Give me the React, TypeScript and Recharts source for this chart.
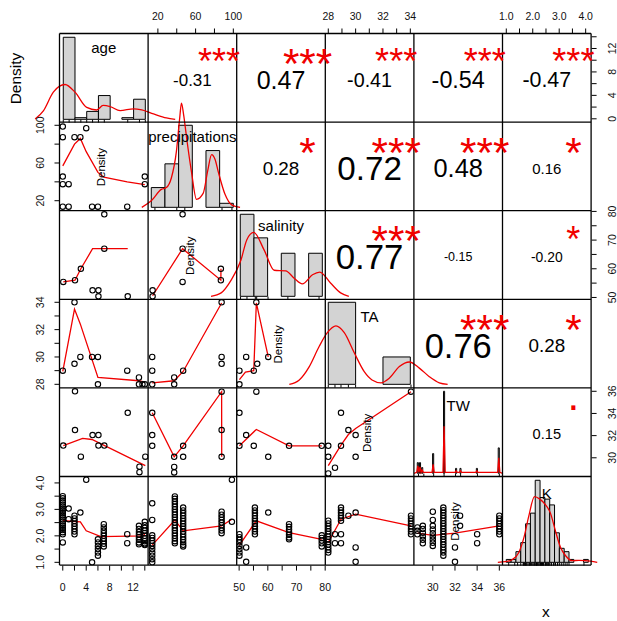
import React from 'react'
import { ComposedChart, Scatter, Line, XAxis, YAxis, ReferenceArea } from 'recharts'

type Pt = [number, number]
type Group = [number, number[]]
type Side = 'top' | 'bottom' | 'left' | 'right'

// variables in panel order and their observed ranges
const variables = ['age', 'precipitations', 'salinity', 'TA', 'TW', 'K']
const dataRanges: Pt[] = [[0, 14], [13, 100], [50.4, 79], [28, 34], [28.6, 36], [1.0, 4.1]]

// outer axes: tick marks and the ones that carry a label
const ageTicks = [0, 2, 4, 6, 8, 10, 12, 14]
const precipTicks = [20, 40, 60, 80, 100]
const salinityTicks = [50, 55, 60, 65, 70, 75, 80]
const taTicks = [28, 29, 30, 31, 32, 33, 34]
const twTicks = [30, 32, 34, 36]
const kTicks = [1, 1.5, 2, 2.5, 3, 3.5, 4]

const ageTickLabels = ['0', '4', '8', '12']
const precipTickLabels = ['20', '60', '100']
const salinityTickLabels = ['50', '60', '70', '80']
const taTickLabels = ['28', '30', '32', '34']
const twTickLabels = ['30', '32', '34', '36']
const kTickLabels = ['1.0', '2.0', '3.0', '4.0']

// upper triangle: correlations and significance, row by row
const corAge = [-0.31, 0.47, -0.41, -0.54, -0.47]
const corPrecip = [0.28, 0.72, 0.48, 0.16]
const corSalinity = [0.77, -0.15, -0.2]
const corTA = [0.76, 0.28]
const corTW = [0.15]
const sigAge = ['***', '***', '***', '***', '***']
const sigPrecip = ['*', '***', '***', '*']
const sigSalinity = ['***', '', '*']
const sigTA = ['***', '*']
const sigTW = ['.']

// diagonal: histogram breaks + densities, density curve, rug
const ageBreaks = [0, 2, 4, 6, 8, 10, 12, 14]
const ageHist = [0.29, 0.0058, 0.028, 0.084, 0, 0.0058, 0.071]
const ageCurve: Pt[] = [[-4.8, 0.0014], [-3.4, 0.03], [-1.7, 0.096], [0.3, 0.123], [2, 0.096], [4, 0.042], [5.7, 0.033], [6.8, 0.049], [8, 0.045], [9.7, 0.031], [12, 0.037], [13.4, 0.033], [15.4, 0.019], [17.6, 0.005], [19.1, 0]]
const ageRug = [0, 1, 2, 3, 4, 5, 6, 7, 11, 13, 14]

const precipBreaks = [10, 25, 40, 55, 70, 85, 100]
const precipHist = [0.0064, 0.0141, 0.0266, 0, 0.0184, 0.0013]
const precipCurve: Pt[] = [[-0.4, 0], [10, 0.0021], [21, 0.0058], [26.5, 0.0064], [32.1, 0.0096], [37.6, 0.0182], [41.2, 0.029], [43.1, 0.0338], [45.5, 0.03], [49, 0.022], [54.1, 0.0115], [59.6, 0.0026], [66.9, 0.0045], [72, 0.012], [76.2, 0.0171], [80, 0.0155], [83.5, 0.0115], [90.9, 0.0042], [98.2, 0.0008], [107.4, 0]]
const precipRug = [14, 38, 46.8, 87.6, 98.5]

const salinityBreaks = [50, 55, 60, 65, 70, 75, 80]
const salinityHist = [0.0724, 0.0516, 0, 0.038, 0, 0.038]
const salinityCurve: Pt[] = [[39.3, 0], [43, 0.003], [46.6, 0.014], [50.25, 0.032], [52.4, 0.05], [54.9, 0.0564], [58.7, 0.041], [62.4, 0.023], [66.6, 0.0225], [69.7, 0.016], [72.7, 0.011], [76.4, 0.019], [79.1, 0.0214], [83, 0.0117], [86.7, 0.003], [89.7, 0]]
const salinityRug = [50.1, 52.45, 55.5, 56, 60.15, 67.4, 78.8]

const taBreaks = [28, 30, 32, 34]
const taHist = [0.375, 0, 0.125]
const taCurve: Pt[] = [[25.15, 0], [25.88, 0.02], [26.6, 0.08], [27.34, 0.174], [27.93, 0.236], [28.56, 0.267], [29.17, 0.236], [29.9, 0.144], [30.63, 0.058], [31.2, 0.02], [31.86, 0.007], [32.46, 0.028], [33.2, 0.081], [33.93, 0.102], [34.66, 0.074], [35.39, 0.035], [36.12, 0.007], [36.73, 0]]
const taRug = [28, 28.49, 28.93, 29.47, 30, 34.05]

// TW: very narrow bins, given as [left edge, density]
const twRange: Pt = [28.5, 36]
const twBars: Pt[] = [[28.5, 0.13], [28.7, 0.13], [28.9, 0.07], [29.9, 0.24], [30.9, 1], [32.0, 0.06], [32.4, 0.06], [33.9, 0.06], [35.9, 0.31]]
const twCurve: Pt[] = [[28.2, 0], [28.45, 0.012], [28.55, 0.09], [28.65, 0.012], [28.75, 0.08], [28.85, 0.012], [28.95, 0.04], [29.05, 0.012], [29.85, 0.012], [29.95, 0.11], [30.05, 0.012], [30.85, 0.012], [30.95, 0.575], [31.05, 0.012], [31.95, 0.012], [32.05, 0.03], [32.15, 0.012], [32.35, 0.012], [32.45, 0.03], [32.55, 0.012], [33.85, 0.012], [33.95, 0.03], [34.05, 0.012], [35.85, 0.012], [35.95, 0.19], [36.05, 0.012], [36.3, 0]]
const twRug = [28.61, 29.1, 30, 30.95, 32, 32.46, 34, 36]

const kBreaks = [0.9, 1.1, 1.3, 1.5, 1.7, 1.9, 2.1, 2.3, 2.5, 2.7, 2.9, 3.1, 3.3, 3.5, 3.7, 3.9, 4.1, 4.3]
const kHist = [0.032, 0.032, 0.118, 0.218, 0.427, 0.545, 0.909, 0.718, 0.7, 0.636, 0.327, 0.155, 0.118, 0.032, 0, 0, 0.032]
const kCurve: Pt[] = [[0.55, 0], [0.87, 0.007], [1.14, 0.029], [1.42, 0.109], [1.63, 0.273], [1.83, 0.509], [2.07, 0.727], [2.29, 0.7], [2.53, 0.636], [2.73, 0.545], [2.94, 0.345], [3.15, 0.164], [3.36, 0.073], [3.63, 0.018], [3.91, 0.022], [4.18, 0.018], [4.67, 0]]

// lower triangle: scatter points and smoother, named y-by-x
const precipAgePts: Pt[] = [[0, 98.6], [0, 87.4], [2, 87.4], [3, 87.4], [4, 96.9], [0, 45.6], [0, 37.5], [1, 37.5], [14, 45.6], [14, 37.5], [0, 13.7], [1, 13.7], [5, 13.7], [6, 13.7], [11, 13.7]]
const precipAgeFit: Pt[] = [[0, 57], [2, 80], [3, 86], [4, 72], [6, 50], [7, 45], [11, 40], [14, 37]]

const salinityAgePts: Pt[] = [[7, 79], [7, 67], [0, 55.4], [2, 56], [3, 60], [5, 52.5], [6, 52.5], [6, 50.4], [11, 50.4]]
const salinityAgeFit: Pt[] = [[0, 55.4], [2, 56], [3, 60], [5, 67], [7, 67], [11, 67]]
const salinityPrecipPts: Pt[] = [[14.4, 52.5], [14.4, 50.4], [46.2, 79], [46.2, 67], [46.2, 55.4], [86.8, 60], [86.8, 56]]
const salinityPrecipFit: Pt[] = [[14.4, 50.6], [46.2, 67], [86.8, 56], [86.9, 60]]

const taAgePts: Pt[] = [[0, 29], [2, 34], [2, 29.5], [3, 30], [5, 30], [6, 30], [6, 28], [11, 29], [13, 28.5], [13, 28], [13.6, 28], [14, 28]]
const taAgeFit: Pt[] = [[0, 28.94], [2, 33.5], [3, 32.4], [6, 28.5], [13, 28.26], [14, 28.16]]
const taPrecipPts: Pt[] = [[14, 30], [14, 29], [14, 28], [37.3, 28.5], [37.3, 28], [46.8, 29], [87.6, 34], [87.6, 30], [87.6, 29.5]]
const taPrecipFit: Pt[] = [[14, 28.1], [37.3, 28.26], [46.8, 28.94], [87.6, 33.95]]
const taSalinityPts: Pt[] = [[50.1, 29], [50.1, 28], [52.45, 30], [55.1, 29], [56.3, 29.5], [56, 34], [60.15, 30]]
const taSalinityFit: Pt[] = [[50.1, 28.34], [52.2, 28.9], [55.1, 29.0], [56, 33.95], [60.15, 30]]

const twAgePts: Pt[] = [[2, 36], [0, 31.1], [2, 32.5], [5, 32.05], [6, 32.05], [6, 31.1], [7, 31.1], [3, 30.1], [11, 34.06], [14, 30.1], [13, 29.2], [13, 28.7]]
const twAgeFit: Pt[] = [[0, 31.1], [3.3, 31.75], [4.9, 31.65], [14, 29.3]]
const twPrecipPts: Pt[] = [[14, 34.06], [14, 32.05], [14, 31.08], [37.3, 30.09], [37.3, 29.18], [37.3, 28.68], [46.8, 31.08], [46.8, 30.09], [87.6, 35.96], [87.6, 32.5], [87.6, 30.09]]
const twPrecipFit: Pt[] = [[14, 34.06], [37.3, 30.09], [46.8, 31.08], [87.6, 35.96], [87.7, 30.09]]
const twSalinityPts: Pt[] = [[56, 35.96], [50.1, 34.06], [52.45, 32.05], [50.1, 31.08], [55.1, 31.08], [60.15, 30.09], [67.4, 31.08], [78.8, 31.08]]
const twSalinityFit: Pt[] = [[50.1, 31.08], [56, 32.56], [67.4, 31.08], [78.8, 31.08]]
const twTaPts: Pt[] = [[28, 31.08], [28, 30.09], [28.49, 29.1], [28, 28.59], [28.93, 34.06], [28.93, 31.08], [29.47, 32.5], [30, 32.05], [30, 30.09], [34.05, 35.96]]
const twTaFit: Pt[] = [[28, 29.3], [28.93, 31.15], [29.47, 32.1], [30, 32.65], [34.05, 35.96]]

// K rows: stacks of points sharing one x value
const kAgeGroups: Group[] = [
  [0, [3.5, 3.42, 3.34, 3.26, 3.18, 3.1, 3.02, 2.94, 2.86, 2.78, 2.7, 2.62, 2.54, 2.46, 2.38, 2.3, 2.22, 2.14, 2.06, 1.75]],
  [1, [3.03, 2.63]],
  [2, [2.76, 2.66, 2.56, 2.46, 2.36, 2.26, 2.16, 2.06]],
  [3, [2.88]],
  [4, [4.12]],
  [5, [1.0]],
  [6, [1.87, 1.75, 1.62, 1.5, 1.37, 1.25]],
  [7, [2.44, 2.32, 2.2, 2.1, 2.0, 1.9, 1.8, 1.7, 1.6]],
  [11, [2.06, 1.72]],
  [13, [2.38, 2.26, 2.15, 2.05, 1.95, 1.85, 1.75, 1.68]],
  [14, [2.53, 2.4, 2.3, 2.2, 2.1, 2.0, 1.9, 1.8, 1.72, 1.68, 1.65]],
]
const kAgeFit: Pt[] = [[0, 2.57], [3, 2.53], [4, 2.19], [6.5, 1.97], [13.8, 2.0], [14, 2.1]]
const kPrecipGroups: Group[] = [
  [14, [3.23, 2.6, 2.02, 1.92, 1.82, 1.72, 1.62, 1.5, 1.37, 1.25, 1.12, 1.0]],
  [38, [3.49, 3.4, 3.3, 3.2, 3.1, 3.0, 2.9, 2.8, 2.7, 2.6, 2.5, 2.4, 2.3, 2.2, 2.1, 2.0, 1.9, 1.8, 1.72]],
  [46.8, [3.07, 2.96, 2.86, 2.76, 2.66, 2.56, 2.46, 2.36, 2.26, 2.16, 2.06, 1.96, 1.86, 1.76, 1.66, 1.6]],
  [87.6, [2.91, 2.8, 2.7, 2.6, 2.5, 2.4, 2.3, 2.2, 2.1]],
  [98.5, [4.12, 2.53]],
]
const kPrecipFit: Pt[] = [[14, 1.65], [38, 2.6], [46.8, 2.19], [87.6, 2.38], [98.5, 2.63]]
const kSalinityGroups: Group[] = [
  [50.1, [2.06, 1.95, 1.85, 1.75, 1.62, 1.5, 1.37, 1.25]],
  [52.45, [1.56, 1.02]],
  [55.5, [3.07, 2.96, 2.86, 2.76, 2.66, 2.56, 2.46, 2.36, 2.26, 2.16, 2.06]],
  [60.15, [2.88]],
  [67.4, [2.44, 2.34, 2.24, 2.14, 2.04, 1.94, 1.87]],
  [78.8, [2.02, 1.92, 1.82, 1.72, 1.6]],
]
const kSalinityFit: Pt[] = [[50.1, 1.65], [56, 2.57], [67.4, 2.12], [78.8, 1.87]]
const kTaGroups: Group[] = [
  [28, [2.57, 2.47, 2.37, 2.27, 2.17, 2.07, 1.97, 1.87, 1.77, 1.67, 1.57, 1.47, 1.37]],
  [28.49, [2.06, 1.72]],
  [28.93, [3.07, 2.97, 2.87, 2.77, 2.67, 2.57, 2.06, 1.72]],
  [29.47, [2.76]],
  [30, [2.88, 1.56, 1.02]],
  [34.05, [2.76, 2.66, 2.56, 2.46, 2.36, 2.26, 2.16, 2.06]],
]
const kTaFit: Pt[] = [[28, 1.75], [28.93, 2.63], [30, 2.82], [34.05, 2.38]]
const kTwGroups: Group[] = [
  [28.61, [2.32, 2.19, 2.06]],
  [29.1, [2.38, 2.26, 2.12, 1.98, 1.85, 1.72]],
  [30, [2.91, 2.6, 2.38, 2.24, 2.1, 1.98, 1.86, 1.74, 1.62]],
  [30.95, [3.07, 2.97, 2.87, 2.77, 2.67, 2.57, 2.47, 2.37, 2.27, 2.17, 2.07, 1.97, 1.87, 1.77, 1.67, 1.57, 1.47, 1.37, 1.25]],
  [32, [1.56, 1.02]],
  [32.46, [2.76, 2.38]],
  [34, [2.06, 1.72]],
  [36, [2.76, 2.66, 2.56, 2.46, 2.36, 2.26, 2.16, 2.06]],
]
const kTwFit: Pt[] = [[28.61, 2.1], [30, 2.02], [32, 2.1], [36, 2.38]]

// ---------------------------------------------------------------- layout
const P = 88.6
const X0 = 59.5
const Y0 = 33.5
const FONT = '"Liberation Sans", Arial, Helvetica, sans-serif'
const RED = '#f00000'
const colLeft = (j: number) => X0 + j * P
const rowTop = (i: number) => Y0 + i * P

const flatten = (groups: Group[]): Pt[] => groups.flatMap(([x, ys]) => ys.map((y) => [x, y] as Pt))
const xy = (pts: Pt[]) => pts.map(([x, y]) => ({ x, y }))
// R pads every axis range by 4% on each side
const pad = (r: Pt): Pt => {
  const e = (r[1] - r[0]) * 0.04
  return [r[0] - e, r[1] + e]
}
const domains = dataRanges.map(pad)
const axisTicks = [ageTicks, precipTicks, salinityTicks, taTicks, twTicks, kTicks]
const axisLabels = [ageTickLabels, precipTickLabels, salinityTickLabels, taTickLabels, twTickLabels, kTickLabels]

const kRug = Array.from(new Set(flatten(kAgeGroups).map((p) => p[1]))).sort((a, b) => a - b)

type Bin = { lo: number; hi: number; h: number }
const fromBreaks = (breaks: number[], dens: number[]): Bin[] =>
  dens.map((h, n) => ({ lo: breaks[n], hi: breaks[n + 1], h }))

const diagonals = [
  { bins: fromBreaks(ageBreaks, ageHist), range: [ageBreaks[0], ageBreaks[7]], curve: ageCurve, rug: ageRug },
  { bins: fromBreaks(precipBreaks, precipHist), range: [10, 100], curve: precipCurve, rug: precipRug },
  { bins: fromBreaks(salinityBreaks, salinityHist), range: [50, 80], curve: salinityCurve, rug: salinityRug },
  { bins: fromBreaks(taBreaks, taHist), range: [28, 34], curve: taCurve, rug: taRug },
  { bins: twBars.map(([lo, h]) => ({ lo, hi: lo + 0.1, h })), range: twRange, curve: twCurve, rug: twRug },
  { bins: fromBreaks(kBreaks, kHist), range: [0.9, 4.3], curve: kCurve, rug: kRug },
]

const lower: Record<string, [Pt[], Pt[]]> = {
  '1-0': [precipAgePts, precipAgeFit],
  '2-0': [salinityAgePts, salinityAgeFit],
  '2-1': [salinityPrecipPts, salinityPrecipFit],
  '3-0': [taAgePts, taAgeFit],
  '3-1': [taPrecipPts, taPrecipFit],
  '3-2': [taSalinityPts, taSalinityFit],
  '4-0': [twAgePts, twAgeFit],
  '4-1': [twPrecipPts, twPrecipFit],
  '4-2': [twSalinityPts, twSalinityFit],
  '4-3': [twTaPts, twTaFit],
  '5-0': [flatten(kAgeGroups), kAgeFit],
  '5-1': [flatten(kPrecipGroups), kPrecipFit],
  '5-2': [flatten(kSalinityGroups), kSalinityFit],
  '5-3': [flatten(kTaGroups), kTaFit],
  '5-4': [flatten(kTwGroups), kTwFit],
}

const axisSides = (i: number, j: number): Side[] => {
  const s: Side[] = []
  if (i === 0 && j % 2 === 1) s.push('top')
  if (i === 5 && j % 2 === 0) s.push('bottom')
  if (j === 0 && i % 2 === 1) s.push('left')
  if (j === 5 && i % 2 === 0) s.push('right')
  return s
}

const tickRenderer = (side: Side, labels: string[]) => (props: any) => {
  const { x, y, payload } = props
  const label = labels.find((l) => Number(l) === payload.value)
  if (label === undefined) return <g />
  const st = { fontSize: 10.5, fontFamily: FONT, fill: '#111' }
  if (side === 'top') return <text x={x} y={y} textAnchor="middle" {...st}>{label}</text>
  if (side === 'bottom') return <text x={x} y={y + 7.6} textAnchor="middle" {...st}>{label}</text>
  return (
    <text x={x} y={y} textAnchor="middle" transform={`rotate(-90 ${x} ${y})`} {...st}>
      {label}
    </text>
  )
}

const OpenCircle = (p: any) => <circle cx={p.cx} cy={p.cy} r={2.7} fill="none" stroke="#000" strokeWidth={1.1} />
const RugTick = (p: any) => <line x1={p.cx} x2={p.cx} y1={p.cy} y2={p.cy - 3} stroke="#000" strokeWidth={1} />

function PairPanel({ i, j, pts, fit }: { i: number; j: number; pts?: Pt[]; fit?: Pt[] }) {
  const sides = axisSides(i, j)
  const eT = sides.includes('top') ? Y0 : 0
  const eB = sides.includes('bottom') ? 40 : 0
  const eL = sides.includes('left') ? X0 : 0
  const eR = sides.includes('right') ? 26 : 0
  const xSide: Side = eT ? 'top' : 'bottom'
  const ySide: Side = eL ? 'left' : 'right'
  return (
    <div style={{ position: 'absolute', left: colLeft(j) - eL, top: rowTop(i) - eT }}>
      <ComposedChart width={P + eL + eR} height={P + eT + eB} margin={{ top: 0, right: 0, bottom: 0, left: 0 }}>
        <XAxis
          type="number"
          dataKey="x"
          domain={domains[j]}
          allowDataOverflow
          hide={!(eT || eB)}
          orientation={xSide as 'top' | 'bottom'}
          height={eT + eB || 30}
          ticks={axisTicks[j]}
          interval={0}
          tickSize={5}
          tickMargin={xSide === 'top' ? 8.8 : 12.8}
          axisLine={false}
          tickLine={{ stroke: '#000' }}
          tick={tickRenderer(xSide, axisLabels[j])}
        />
        <YAxis
          type="number"
          dataKey="y"
          domain={domains[i]}
          allowDataOverflow
          hide={!(eL || eR)}
          orientation={ySide as 'left' | 'right'}
          width={eL + eR || 30}
          ticks={axisTicks[i]}
          interval={0}
          tickSize={5}
          tickMargin={ySide === 'left' ? 10.7 : 19.7}
          axisLine={false}
          tickLine={{ stroke: '#000' }}
          tick={tickRenderer(ySide, axisLabels[i])}
        />
        {pts && <Scatter data={xy(pts)} shape={OpenCircle} isAnimationActive={false} />}
        {fit && (
          <Line data={xy(fit)} dataKey="y" type="linear" stroke={RED} strokeWidth={1.3} dot={false} isAnimationActive={false} />
        )}
      </ComposedChart>
    </div>
  )
}

function DiagPanel({ k }: { k: number }) {
  const d = diagonals[k]
  const [b0, b1] = d.range
  const M = Math.max(...d.bins.map((b) => b.h))
  const xlo = b0 - 0.04 * (b1 - b0)
  const xhi = b1 + 0.04 * (b1 - b0)
  const ylo = -0.04 * M
  const yhi = 1.04 * M
  const dx = (xhi - xlo) / P
  const dy = (yhi - ylo) / P
  const EL = 45, ER = 45, ET = 32, EB = 4
  return (
    <div style={{ position: 'absolute', left: colLeft(k) - EL, top: rowTop(k) - ET }}>
      <ComposedChart width={P + EL + ER} height={P + ET + EB} margin={{ top: 0, right: 0, bottom: 0, left: 0 }}>
        <XAxis type="number" dataKey="x" domain={[xlo - EL * dx, xhi + ER * dx]} allowDataOverflow hide />
        <YAxis type="number" dataKey="y" domain={[ylo - EB * dy, yhi + ET * dy]} allowDataOverflow hide />
        {d.bins
          .filter((b) => b.h > 0)
          .map((b, n) => (
            <ReferenceArea key={n} x1={b.lo} x2={b.hi} y1={0} y2={b.h} fill="#d3d3d3" fillOpacity={1} stroke="#000" strokeWidth={1} />
          ))}
        <Line
          data={xy(d.curve)}
          dataKey="y"
          type={k === 4 ? 'linear' : 'monotone'}
          stroke={RED}
          strokeWidth={1.3}
          dot={false}
          isAnimationActive={false}
        />
        <Scatter data={d.rug.map((v) => ({ x: v, y: ylo }))} shape={RugTick} isAnimationActive={false} />
      </ComposedChart>
    </div>
  )
}

const emWidth = (s: string) => s.split('').reduce((a, c) => a + (c === '.' ? 0.278 : c === '-' ? 0.333 : 0.556), 0)

function Overlay() {
  const els: React.ReactNode[] = []
  for (let k = 0; k <= 6; k++) {
    els.push(<line key={'v' + k} x1={colLeft(k)} x2={colLeft(k)} y1={Y0} y2={rowTop(6)} stroke="#000" strokeWidth={1.3} />)
    els.push(<line key={'h' + k} x1={X0} x2={colLeft(6)} y1={rowTop(k)} y2={rowTop(k)} stroke="#000" strokeWidth={1.3} />)
  }
  const corRows = [corAge, corPrecip, corSalinity, corTA, corTW]
  const sigRows = [sigAge, sigPrecip, sigSalinity, sigTA, sigTW]
  corRows.forEach((vals, i) =>
    vals.forEach((r, n) => {
      const j = i + 1 + n
      const txt = r.toFixed(2)
      const w = emWidth(txt)
      const f = (82.3 * (Math.abs(r) + 0.3)) / (1.3 * w)
      const fs = 82.3 / w
      els.push(
        <text key={`c${i}${j}`} x={colLeft(j) + P / 2} y={rowTop(i) + P / 2 + 2 + 0.358 * f} fontSize={f} textAnchor="middle" fill="#000">
          {txt}
        </text>
      )
      const s = sigRows[i][n]
      if (s) {
        els.push(
          <text key={`s${i}${j}`} x={colLeft(j) + 0.8 * P} y={rowTop(i) + 20.3 + (s === '.' ? 0.05 : 0.573) * fs} fontSize={fs} textAnchor="middle" fill={RED}>
            {s}
          </text>
        )
      }
    })
  )
  variables.forEach((name, k) => {
    els.push(
      <text key={'n' + k} x={colLeft(k) + P / 2} y={rowTop(k) + (/[A-Z]/.test(name[0]) ? 22.7 : 19.8)} fontSize={15} textAnchor="middle" fill="#000">
        {name}
      </text>
    )
    const f = k === 0 ? 15.5 : 11.5
    const bx = colLeft(k) - (k === 0 ? 42.5 : 46) + 0.253 * f
    const cy = rowTop(k) + 45
    els.push(
      <text key={'d' + k} x={bx} y={cy} fontSize={f} textAnchor="middle" fill="#000" transform={`rotate(-90 ${bx} ${cy})`}>
        Density
      </text>
    )
  })
  els.push(
    <text key="xlab" x={colLeft(5) + P / 2 - 1} y={rowTop(6) + 51.6} fontSize={15.5} textAnchor="middle" fill="#000">
      x
    </text>
  )
  return (
    <svg width={617} height={621} style={{ position: 'absolute', left: 0, top: 0, pointerEvents: 'none' }} fontFamily={FONT}>
      {els}
    </svg>
  )
}

export default function App() {
  const cells: React.ReactNode[] = []
  for (let i = 0; i < 6; i++) {
    for (let j = 0; j < 6; j++) {
      if (j < i) {
        const [pts, fit] = lower[`${i}-${j}`]
        cells.push(<PairPanel key={`${i}-${j}`} i={i} j={j} pts={pts} fit={fit} />)
      } else if (j === i) {
        cells.push(<DiagPanel key={`${i}-${j}`} k={i} />)
      } else if (axisSides(i, j).length) {
        cells.push(<PairPanel key={`${i}-${j}`} i={i} j={j} />)
      }
    }
  }
  return (
    <div style={{ position: 'absolute', left: 0, top: 0, width: 617, height: 621, background: '#fff', fontFamily: FONT, overflow: 'hidden' }}>
      <style>{`.recharts-surface { overflow: visible; } .recharts-wrapper { overflow: visible; }`}</style>
      {cells}
      <Overlay />
    </div>
  )
}
